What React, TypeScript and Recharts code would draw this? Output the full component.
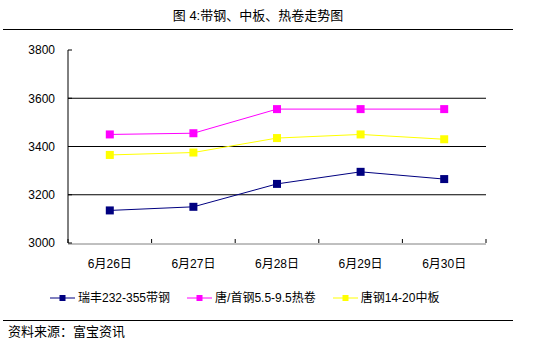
import React from 'react';
import { LineChart, Line, XAxis, YAxis, ReferenceLine } from 'recharts';

const title = '图 4:带钢、中板、热卷走势图';
const source = '资料来源：富宝资讯';
const categories = ['6月26日', '6月27日', '6月28日', '6月29日', '6月30日'];
const ruifeng = [3135, 3150, 3245, 3295, 3265];
const tangHot = [3450, 3455, 3555, 3555, 3555];
const tangPlate = [3365, 3375, 3435, 3450, 3430];
const yTicks = [3000, 3200, 3400, 3600, 3800];
const gridValues = [3200, 3400, 3600];
const boundaryTicks = [0, 1, 2, 3, 4, 5];
const seriesNames = ['瑞丰232-355带钢', '唐/首钢5.5-9.5热卷', '唐钢14-20中板'];
const seriesColors = ['#000080', '#FF00FF', '#FFFF00'];
const seriesKeys = ['ruifeng', 'tangHot', 'tangPlate'];

const data = categories.map((c, i) => ({
  date: c,
  pos: i + 0.5,
  ruifeng: ruifeng[i],
  tangHot: tangHot[i],
  tangPlate: tangPlate[i],
}));

const FONT = '"Liberation Sans", Arial, "Noto Sans CJK SC", sans-serif';

const makeDot = (color: string) => (props: any) => {
  const { cx, cy, index } = props;
  if (cx == null || cy == null) return <g key={index} />;
  return <rect key={index} x={cx - 4} y={cy - 4} width={8} height={8} fill={color} />;
};

const EmptyTick = () => <g />;

export default function App() {
  return (
    <div
      style={{
        position: 'absolute',
        left: 0,
        top: 0,
        width: 547,
        height: 346,
        background: '#fff',
        fontFamily: FONT,
        color: '#000',
      }}
    >
      <div
        style={{
          position: 'absolute',
          left: 0,
          top: 8,
          width: 516,
          textAlign: 'center',
          fontSize: 13,
          lineHeight: '16px',
        }}
      >
        {title}
      </div>
      <div style={{ position: 'absolute', left: 3, top: 29, width: 510, height: 1, background: '#000' }} />

      <div style={{ position: 'absolute', left: 0, top: 0 }}>
        <LineChart
          width={547}
          height={346}
          data={data}
          margin={{ top: 50, right: 61, left: 0, bottom: 73 }}
        >
          <XAxis
            dataKey="pos"
            type="number"
            domain={[0, 5]}
            ticks={boundaryTicks}
            allowDataOverflow
            height={1}
            tick={EmptyTick}
            tickSize={-4}
            axisLine={false}
            tickLine={{ stroke: '#000' }}
          />
          <XAxis
            xAxisId="cat"
            dataKey="date"
            scale="band"
            height={29}
            axisLine={{ stroke: '#808080' }}
            tickLine={false}
            tickSize={0}
            tickMargin={15}
            interval={0}
            tick={{ fontSize: 12, fill: '#000', fontFamily: FONT }}
          />
          <YAxis
            width={68}
            domain={[3000, 3800]}
            ticks={yTicks}
            interval={0}
            allowDataOverflow
            axisLine={{ stroke: '#000' }}
            tickLine={{ stroke: '#000' }}
            tickSize={-4}
            tickMargin={17}
            tick={{ fontSize: 12, fill: '#000', fontFamily: FONT }}
          />
          {gridValues.map((v) => (
            <ReferenceLine key={v} xAxisId="cat" y={v} stroke="#000" strokeWidth={1} />
          ))}
          <Line
            dataKey="ruifeng"
            stroke="none"
            dot={false}
            activeDot={false}
            legendType="none"
            isAnimationActive={false}
          />
          {seriesKeys.map((k, i) => (
            <Line
              key={k}
              xAxisId="cat"
              dataKey={k}
              name={seriesNames[i]}
              stroke={seriesColors[i]}
              strokeWidth={1}
              dot={makeDot(seriesColors[i])}
              activeDot={false}
              isAnimationActive={false}
            />
          ))}
        </LineChart>
      </div>

      <div
        style={{
          position: 'absolute',
          left: 50,
          top: 290,
          display: 'flex',
          gap: 17,
          fontSize: 12,
          lineHeight: '16px',
          whiteSpace: 'nowrap',
        }}
      >
        {seriesNames.map((n, i) => (
          <div key={n} style={{ display: 'flex', alignItems: 'center' }}>
            <svg width={25} height={16} style={{ marginRight: 3 }}>
              <line x1={0} y1={8} x2={25} y2={8} stroke={seriesColors[i]} strokeWidth={1} />
              <rect x={9.5} y={5} width={6} height={6} fill={seriesColors[i]} />
            </svg>
            <span>{n}</span>
          </div>
        ))}
      </div>

      <div style={{ position: 'absolute', left: 3, top: 320, width: 510, height: 1, background: '#000' }} />
      <div style={{ position: 'absolute', left: 8, top: 324, fontSize: 13, lineHeight: '16px' }}>{source}</div>
    </div>
  );
}
